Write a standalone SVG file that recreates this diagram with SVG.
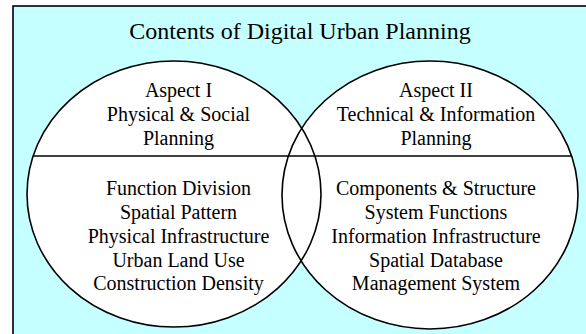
<svg xmlns="http://www.w3.org/2000/svg" width="586" height="334" viewBox="0 0 586 334">
  <style>
    .frame { fill: #c6ffff; stroke: #000; stroke-width: 1.6; }
    .disc { fill: #fff; stroke: none; }
    .rim { fill: none; stroke: #000; stroke-width: 1.6; }
    .divider { fill: none; stroke: #000; stroke-width: 1.4; }
    text { font-family: "Liberation Serif", "Times New Roman", serif; fill: #000; text-anchor: middle; }
    .title { font-size: 24px; }
    .label { font-size: 20px; }
  </style>

  <rect width="586" height="334" fill="#fff"/>
  <!-- panel runs off the right and bottom edges -->
  <rect class="frame" x="13" y="6" width="600" height="360"/>

  <!-- white fills of both aspects, outlines are drawn on top of both -->
  <g id="fills">
    <ellipse class="disc" cx="174" cy="194" rx="147" ry="133"/>
    <ellipse class="disc" cx="430" cy="195" rx="148" ry="134"/>
  </g>

  <g id="title">
    <text class="title" x="300" y="39">Contents of Digital Urban Planning</text>
  </g>

  <g id="aspect-1">
    <ellipse class="rim" cx="174" cy="194" rx="147" ry="133"/>
    <text class="label" x="178.5" y="97">Aspect I</text>
    <text class="label" x="178.5" y="121">Physical &amp; Social</text>
    <text class="label" x="178.5" y="145">Planning</text>
    <text class="label" x="178.5" y="195">Function Division</text>
    <text class="label" x="178.5" y="219">Spatial Pattern</text>
    <text class="label" x="178.5" y="243">Physical Infrastructure</text>
    <text class="label" x="178.5" y="267">Urban Land Use</text>
    <text class="label" x="178.5" y="290">Construction Density</text>
  </g>

  <g id="aspect-2">
    <ellipse class="rim" cx="430" cy="195" rx="148" ry="134"/>
    <text class="label" x="436" y="97">Aspect II</text>
    <text class="label" x="436" y="121">Technical &amp; Information</text>
    <text class="label" x="436" y="145">Planning</text>
    <text class="label" x="436" y="195">Components &amp; Structure</text>
    <text class="label" x="436" y="219">System Functions</text>
    <text class="label" x="436" y="243">Information Infrastructure</text>
    <text class="label" x="436" y="267">Spatial Database</text>
    <text class="label" x="436" y="290">Management System</text>
  </g>

  <!-- line splitting the aspect headings from their contents -->
  <g id="connectors">
    <line class="divider" x1="33" y1="156" x2="571" y2="156"/>
  </g>
</svg>
